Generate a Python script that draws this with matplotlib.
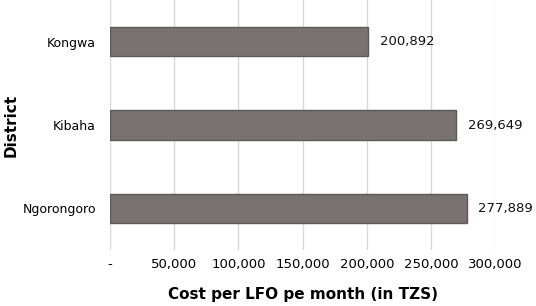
import matplotlib
matplotlib.use("Agg")
import matplotlib.pyplot as plt
from matplotlib.ticker import FuncFormatter

districts = ["Kongwa", "Kibaha", "Ngorongoro"]
cost = [200892, 269649, 277889]
xticks = [0, 50000, 100000, 150000, 200000, 250000, 300000]

fig = plt.figure(figsize=(5.36, 3.06), dpi=100)
ax = fig.add_axes([0.205, 0.183, 0.719, 0.817])

ypos = range(len(districts))
ax.barh(ypos, cost, height=0.35, color="#787272", edgecolor="#5e5959", linewidth=1, zorder=3)

for y, v in zip(ypos, cost):
    ax.text(v + 9000, y, f"{v:,}", va="center", ha="left", fontsize=9.5, color="#111111", clip_on=False)

ax.set_yticks(list(ypos))
ax.set_yticklabels(districts, fontsize=9)
ax.set_ylim(2.5, -0.5)
ax.set_xlim(0, 300000)
ax.set_xticks(xticks)
ax.xaxis.set_major_formatter(FuncFormatter(lambda v, p: "-" if v == 0 else f"{int(v):,}"))
ax.tick_params(axis="x", labelsize=9.5, length=0, pad=6)
ax.tick_params(axis="y", length=0, pad=10)
ax.grid(axis="x", color="#d9d9d9", linewidth=1, zorder=0)
for s in ax.spines.values():
    s.set_visible(False)

ax.set_xlabel("Cost per LFO pe month (in TZS)", fontsize=11, fontweight="bold", labelpad=11)
ax.set_ylabel("District", fontsize=11, fontweight="bold")
ax.yaxis.set_label_coords(-0.237, 0.5)

fig.savefig("out.png", dpi=100)
